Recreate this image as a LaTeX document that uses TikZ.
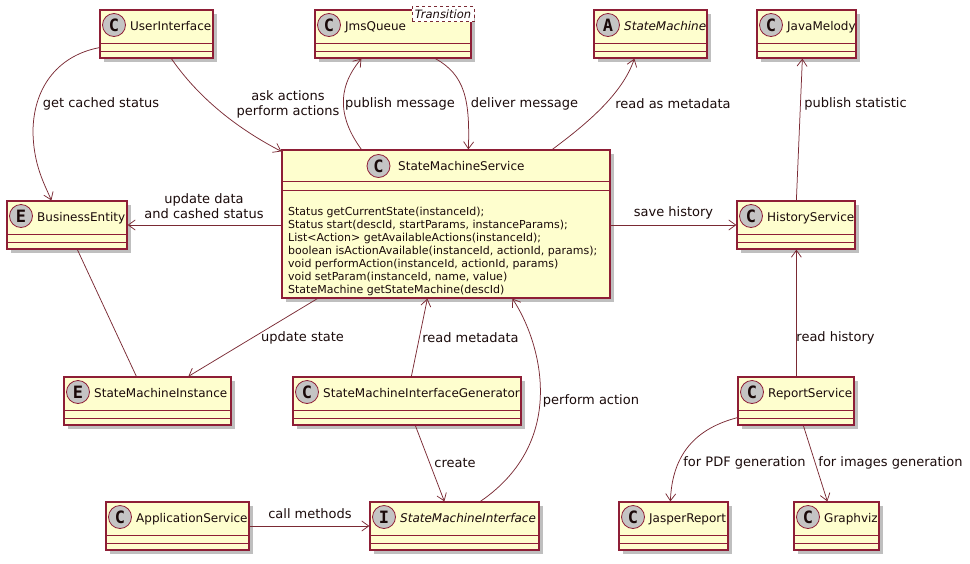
\documentclass[tikz,border=0pt]{standalone}
\usepackage{fontspec}
\setmainfont{DejaVu Sans}
\newfontfamily\spotfont{DejaVu Sans Mono}
\usetikzlibrary{calc,arrows.meta,shadows}
\definecolor{boxfill}{HTML}{FEFECE}
\definecolor{boxline}{HTML}{8E1E36}
\definecolor{edgecol}{HTML}{7A2A34}
\definecolor{spotfill}{HTML}{C4C4C4}
\definecolor{txt}{HTML}{1A0A0A}
\tikzset{
 clsbox/.style={draw=boxline, fill=boxfill, line width=1.25pt, inner sep=0pt,
   drop shadow={shadow xshift=4pt,shadow yshift=-4pt,fill=black!50,opacity=0.5}},
 sepline/.style={draw=boxline,line width=1.25pt},
 spot/.style={circle, draw=boxline, line width=0.8pt, fill=spotfill, minimum size=23pt, inner sep=0pt,
   text=txt, font=\spotfont\bfseries\fontsize{17}{17}\selectfont},
 clstitle/.style={anchor=base west, inner sep=0pt, text=txt, font=\fontsize{12}{14}\selectfont},
 edge/.style={draw=edgecol, line width=0.75pt, -{Straight Barb[length=7pt,width=10pt]}},
 plainedge/.style={draw=edgecol, line width=0.75pt},
 lbl/.style={inner sep=0pt, text=txt, font=\fontsize{13}{15}\selectfont, align=center},
 stereo/.style={draw=edgecol, dashed, line width=0.6pt, fill=white, inner sep=1pt, text=txt,
   font=\itshape\fontsize{11.5}{12}\selectfont},
}
% name, left, top, right, bottom, letter, title
\newcommand\umlclass[7]{%
  \node[clsbox, minimum width={#4-#2}, minimum height={#5-#3}] (#1) at ({(#2+#4)/2},{(#3+#5)/2}) {};
  \draw[sepline] ([yshift=15pt]#1.south west) -- ([yshift=15pt]#1.south east);
  \draw[sepline] ([yshift=7.5pt]#1.south west) -- ([yshift=7.5pt]#1.south east);
  \node[spot] (#1-s) at (#2+14,#3+15) {#6};
  \node[clstitle] (#1-t) at (#2+30,#3+20) {#7};
}
\begin{document}
\begin{tikzpicture}[x=1pt,y=-1pt]
\useasboundingbox (0,0) rectangle (970,563);

\umlclass{ui}{100}{10}{213}{58}{C}{UserInterface}
\umlclass{jms}{315}{10}{471}{58}{C}{JmsQueue}
\node[stereo, minimum width=62pt, minimum height=15pt] (jmsst) at (443,14) {Transition};
\umlclass{sm}{594}{10}{707}{58}{A}{\itshape StateMachine}
\umlclass{jm}{757}{10}{856}{58}{C}{JavaMelody}
\umlclass{be}{7}{201}{127}{249}{E}{BusinessEntity}
\umlclass{hs}{737}{201}{855}{249}{C}{HistoryService}
\umlclass{smi}{64}{377}{231}{425}{E}{StateMachineInstance}
\umlclass{gen}{293}{377}{521}{425}{C}{StateMachineInterfaceGenerator}
\umlclass{rs}{738}{377}{854}{425}{C}{ReportService}
\umlclass{as}{106}{502}{249}{550}{C}{ApplicationService}
\umlclass{smif}{370}{502}{539}{550}{I}{\itshape StateMachineInterface}
\umlclass{jr}{619}{502}{728}{550}{C}{JasperReport}
\umlclass{gv}{794}{502}{879}{550}{C}{Graphviz}

% StateMachineService
\node[clsbox, minimum width=328pt, minimum height=148pt] (sms) at (446,224) {};
\draw[sepline] ([yshift=-32pt]sms.north west) -- ([yshift=-32pt]sms.north east);
\draw[sepline] ([yshift=-41pt]sms.north west) -- ([yshift=-41pt]sms.north east);
\node[spot] (sms-s) at (378.5,166) {C};
\node[clstitle] (sms-t) at (398,170) {StateMachineService};
\node[anchor=west, inner sep=0pt, align=left, text=txt, font=\fontsize{11}{12.9}\selectfont] (sms-ops) at (288,251.5)
 {Status getCurrentState(instanceId);\\
  Status start(descId, startParams, instanceParams);\\
  List<Action> getAvailableActions(instanceId);\\
  boolean isActionAvailable(instanceId, actionId, params);\\
  void performAction(instanceId, actionId, params)\\
  void setParam(instanceId, name, value)\\
  StateMachine getStateMachine(descId)};

% connectors
\draw[edge] ($(ui.south west)+(0,-11)$) .. controls (60,55) and (34,85) .. (33,130)
   .. controls (33,165) and (45,185) .. ($(be.north west)+(45,0)$);
\draw[edge] ($(ui.south west)+(72,0)$) .. controls (200,100) and (240,130) .. ($(sms.north west)+(0,2)$);
\draw[edge] ($(sms.north west)+(80,0)$) .. controls (340,120) and (335,90) .. ($(jms.south west)+(47,0)$);
\draw[edge] ($(jms.south west)+(121,0)$) .. controls (465,75) and (470,100) .. ($(sms.north west)+(187,0)$);
\draw[edge] ($(sms.north west)+(271,0)$) .. controls (585,125) and (622,95) .. ($(sm.south west)+(41,0)$);
\draw[edge] ($(hs.north west)+(60,0)$) -- ($(jm.south west)+(46,0)$);
\draw[edge] (sms.west |- be.east) -- (be.east);
\draw[edge] (sms.east |- hs.west) -- (hs.west);
\draw[plainedge] ($(be.south west)+(71,0)$) -- ($(smi.north west)+(73,0)$);
\draw[edge] ($(sms.south west)+(36,0)$) -- ($(smi.north west)+(125,0)$);
\draw[edge] ($(gen.north west)+(119,0)$) -- ($(sms.south west)+(146,0)$);
\draw[edge] ($(gen.south west)+(123,0)$) -- ($(smif.north west)+(75,0)$);
\draw[edge] ($(smif.north west)+(111,0)$) .. controls (570,440) and (540,340) .. ($(sms.south west)+(231,0)$);
\draw[edge] (as.east) -- (smif.west);
\draw[edge] ($(rs.north west)+(59,0)$) -- ($(hs.south west)+(60,0)$);
\draw[edge] ($(rs.south west)+(0,-8)$) .. controls (690,430) and (672,460) .. ($(jr.north west)+(52,0)$);
\draw[edge] ($(rs.south west)+(66,0)$) -- ($(gv.north west)+(34,0)$);

% labels
\node[lbl] (l1) at (101,104) {get cached status};
\node[lbl] (l2) at (288,104) {ask actions\\perform actions};
\node[lbl] (l3) at (400,104) {publish message};
\node[lbl] (l4) at (524.5,104) {deliver message};
\node[lbl] (l5) at (673,104) {read as metadata};
\node[lbl] (l6) at (855.5,104) {publish statistic};
\node[lbl] (l7) at (204,206) {update data\\and cashed status};
\node[lbl] (l8) at (673.5,213) {save history};
\node[lbl] (l9) at (302.5,338) {update state};
\node[lbl] (l10) at (470.5,338) {read metadata};
\node[lbl] (l11) at (455,463) {create};
\node[lbl] (l12) at (591,401) {perform action};
\node[lbl] (l13) at (310,514) {call methods};
\node[lbl] (l14) at (835.5,338) {read history};
\node[lbl] (l15) at (744.5,463) {for PDF generation};
\node[lbl] (l16) at (890.5,463) {for images generation};
\end{tikzpicture}
\end{document}
